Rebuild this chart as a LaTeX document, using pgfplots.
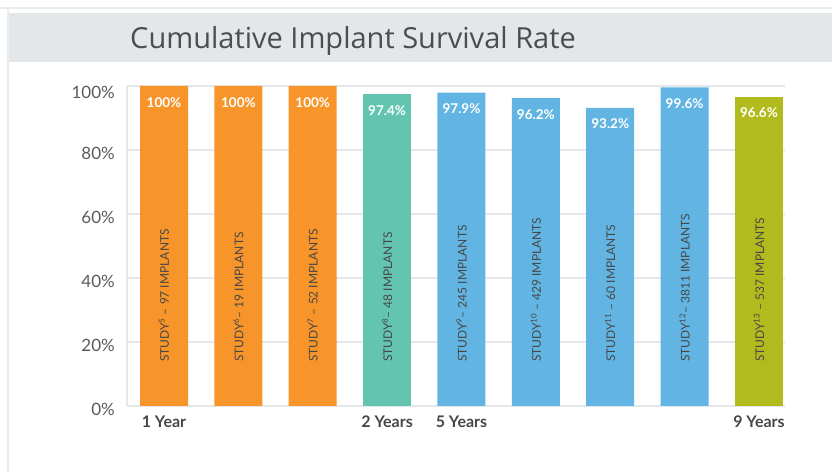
\documentclass[border=0pt]{standalone}
\usepackage{pgfplots}
\pgfplotsset{compat=1.18}
\usepackage{fontspec}
\setmainfont{Lato}
\newfontfamily\titlefont{Open Sans}
\definecolor{orangeb}{HTML}{F7952A}
\definecolor{tealb}{HTML}{63C5B0}
\definecolor{blueb}{HTML}{62B5E2}
\definecolor{oliveb}{HTML}{B2BB1E}
\definecolor{band}{HTML}{E4E7EA}
\definecolor{gridc}{HTML}{E4E8EA}
\definecolor{txt}{HTML}{474747}
\definecolor{ylab}{HTML}{5A5A5A}
\definecolor{titlec}{HTML}{4D4D4D}
\pgfplotsset{
  vals/.style={nodes near coords, point meta=explicit symbolic,
    every node near coord/.append style={anchor=north, inner sep=0pt, yshift=-11pt, text=white, font=\bfseries\fontsize{13.5}{16}\selectfont}},
  studies/.style={nodes near coords, point meta=explicit symbolic,
    every node near coord/.append style={rotate=90, anchor=west, inner sep=0pt, text=txt, font=\fontsize{12}{14}\selectfont}},
}
\begin{document}
\begin{tikzpicture}
\path[use as bounding box] (0,0) rectangle (832pt,473pt);
\draw[gridc!80, line width=1.5pt] (0,465pt) -- (832pt,465pt);
\draw[gridc!80, line width=1.5pt] (8pt,465pt) -- (8pt,0);
\fill[band] (9pt,411pt) rectangle (832pt,460pt);
\node[anchor=base west, inner sep=0pt, font=\titlefont\fontsize{29}{33}\selectfont, text=titlec] at (130pt,424pt) {Cumulative Implant Survival Rate};
\begin{axis}[
  at={(127pt,67pt)}, anchor=south west, scale only axis,
  width=658pt, height=320pt,
  xmin=-0.4975, xmax=8.35, ymin=0, ymax=100,
  ybar, bar width=48pt, bar shift=0pt,
  axis x line*=bottom, axis y line*=left,
  axis line style={-, draw=gridc, line width=1.5pt},
  ymajorgrids, grid style={gridc, line width=1.2pt},
  major tick length=0pt,
  ytick={0,20,40,60,80,100},
  yticklabels={0\%,20\%,40\%,60\%,80\%,\raisebox{-10pt}[0pt][0pt]{100\%}},
  yticklabel style={font=\fontsize{17}{20}\selectfont, text=ylab, anchor=east, inner sep=0pt, xshift=-12pt, yshift=-3pt},
  xtick={0,3,4,8},
  xticklabels={1 Year,2 Years,5 Years,9 Years},
  xticklabel style={font=\bfseries\fontsize{16}{19}\selectfont, text=txt, anchor=north, inner sep=0pt, yshift=-10pt},
]
\addplot[fill=orangeb, draw=none, vals] coordinates {(0,100)[100\%] (1,100)[100\%] (2,100)[100\%]};
\addplot[fill=tealb, draw=none, vals] coordinates {(3,97.4)[97.4\%]};
\addplot[fill=blueb, draw=none, vals] coordinates {(4,97.9)[97.9\%] (5,96.2)[96.2\%] (6,93.2)[93.2\%] (7,99.6)[99.6\%]};
\addplot[fill=oliveb, draw=none, vals] coordinates {(8,96.6)[96.6\%]};
\addplot[draw=none, fill=none, studies] coordinates {
 (0,13.75)[STUDY\textsuperscript{5} – 97 IMPLANTS]
 (1,13.75)[STUDY\textsuperscript{6}– 19 IMPLANTS]
 (2,13.75)[STUDY\textsuperscript{7} – 52 IMPLANTS]
 (3,13.75)[STUDY\textsuperscript{8}– 48 IMPLANTS]
 (4,13.75)[STUDY\textsuperscript{9}– 245 IMPLANTS]
 (5,13.75)[STUDY\textsuperscript{10} – 429 IMPLANTS]
 (6,13.75)[STUDY\textsuperscript{11} – 60 IMPLANTS]
 (7,13.75)[STUDY\textsuperscript{12}– 3811 IMPLANTS]
 (8,13.75)[STUDY\textsuperscript{13} – 537 IMPLANTS]
};
\end{axis}
\end{tikzpicture}
\end{document}
